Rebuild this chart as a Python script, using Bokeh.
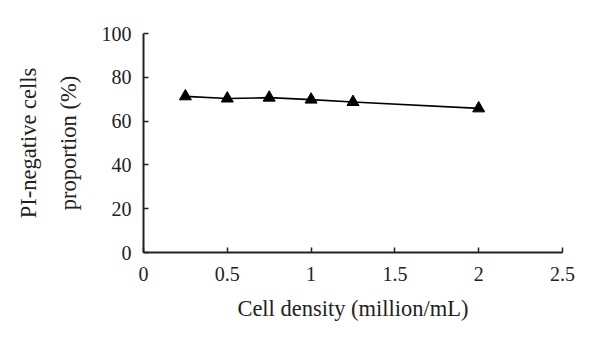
from bokeh.plotting import figure
from bokeh.embed import file_html
from bokeh.resources import INLINE
from bokeh.models import Range1d, FixedTicker

density = [0.25, 0.5, 0.75, 1.0, 1.25, 2.0]
proportion = [71.3, 70.3, 70.7, 69.8, 68.7, 65.8]
x_ticks = [0, 0.5, 1, 1.5, 2, 2.5]
y_ticks = [0, 20, 40, 60, 80, 100]
y_title = "PI-negative cells\nproportion (%)"
x_title = "Cell density (million/mL)"

FONT = "Liberation Serif"
INK = "#222222"

p = figure(width=584, height=326, output_backend="svg", toolbar_location=None,
           x_range=Range1d(0, 2.5), y_range=Range1d(0, 100),
           min_border_left=143, min_border_right=22, min_border_top=33, min_border_bottom=74)
p.outline_line_color = None
p.grid.visible = False

p.line(density, proportion, line_color="black", line_width=1.6)
p.scatter(density, proportion, marker="triangle", size=12, fill_color="black", line_color="black")

for ax in (p.xaxis[0], p.yaxis[0]):
    ax.axis_line_width = 2
    ax.axis_line_color = INK
    ax.major_tick_in = 5
    ax.major_tick_out = 0
    ax.minor_tick_line_color = None
    ax.major_tick_line_width = 1.5
    ax.major_tick_line_color = INK
    ax.major_label_text_font = FONT
    ax.major_label_text_font_size = "20px"
    ax.major_label_text_color = INK
    ax.axis_label_text_font = FONT
    ax.axis_label_text_font_size = "22.5px"
    ax.axis_label_text_font_style = "normal"
    ax.axis_label_text_color = INK

p.xaxis.ticker = FixedTicker(ticks=x_ticks)
p.yaxis.ticker = FixedTicker(ticks=y_ticks)
p.xaxis.major_label_overrides = {0: "0", 0.5: "0.5", 1: "1", 1.5: "1.5", 2: "2", 2.5: "2.5"}
p.xaxis.major_label_standoff = 14
p.yaxis.major_label_standoff = 12
p.xaxis.axis_label = x_title
p.xaxis.axis_label_standoff = 12
p.yaxis.axis_label = y_title
p.yaxis.axis_label_text_line_height = 1.6
p.yaxis.axis_label_standoff = 18

open("out.html", "w").write(file_html(p, INLINE))
